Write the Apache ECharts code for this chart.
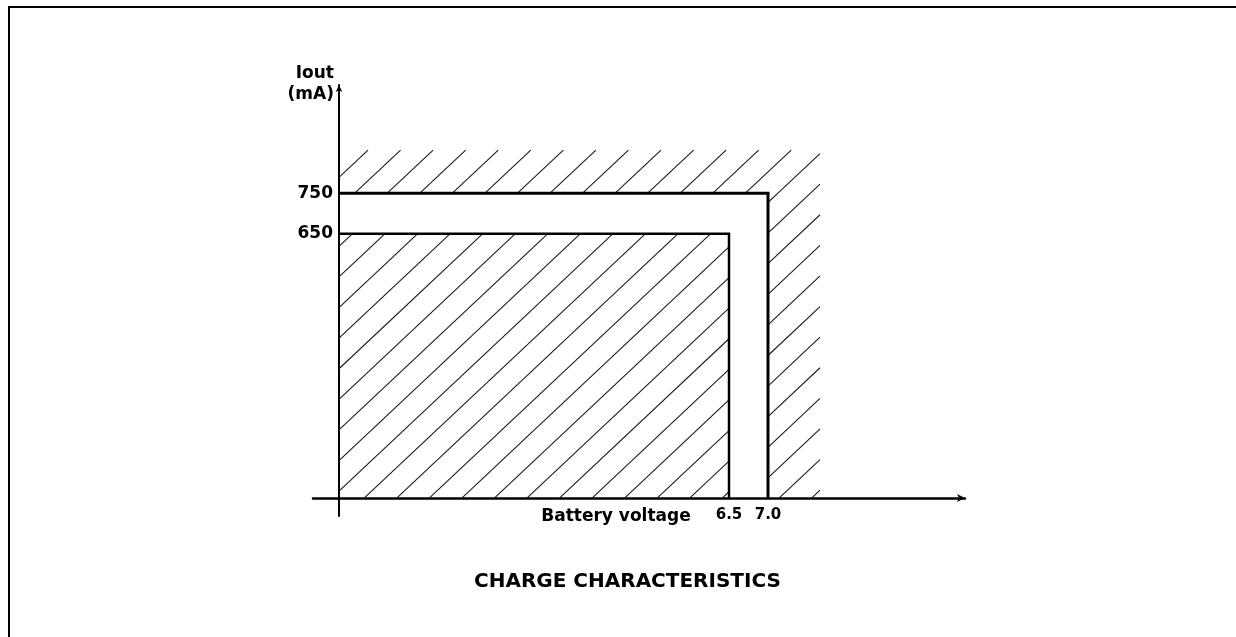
<!DOCTYPE html>
<html><head><meta charset="utf-8">
<script src="https://cdn.jsdelivr.net/npm/echarts@6/dist/echarts.min.js"></script>
<style>html,body{margin:0;padding:0;background:#fff}#chart{width:1236px;height:637px}</style>
</head><body><div id="chart"></div>
<script>
// ---- chart content ----
const chartTitle = 'CHARGE CHARACTERISTICS';
const xAxisName = 'Battery voltage';
const yAxisName = 'Iout\n(mA)';
const voltageTicks = [6.5, 7.0];          // labelled voltages (V)
const currentTicks = [650, 750];          // labelled currents (mA)
const voltageOrigin = 1.5;                // unlabelled schematic origin of voltage axis
const voltageRange = [1.1667, 9.5256];
const currentRange = [-44, 1016];
// boundary corners [voltage, current]
const innerLimit = [6.5, 650];
const outerLimit = [7.0, 750];
// hatched regions [v0, v1, i0, i1]
const hatchInner = [[voltageOrigin, 6.5, 0, 650]];
const hatchOuter = [[voltageOrigin, 7.667, 750, 856], [7.0, 7.667, 0, 750]];

// ---- rendering ----
const FONT = 'DejaVu Sans';
const chart = echarts.init(document.getElementById('chart'), null, {renderer: 'canvas'});

function hatchRenderer(slope, spacing, phase) {
  return function (params, api) {
    const tl = api.coord([api.value(0), api.value(3)]);
    const br = api.coord([api.value(1), api.value(2)]);
    const L = tl[0], T = tl[1], R = br[0], B = br[1];
    const cMin = slope * L + T, cMax = slope * R + B;
    const k0 = Math.ceil((cMin - phase) / spacing), k1 = Math.floor((cMax - phase) / spacing);
    const children = [];
    for (let k = k0; k <= k1; k++) {
      const c = phase + k * spacing;
      const xa = Math.max(L, (c - B) / slope), xb = Math.min(R, (c - T) / slope);
      if (xb - xa < 0.5) continue;
      children.push({type: 'line', shape: {x1: xa, y1: c - slope * xa, x2: xb, y2: c - slope * xb},
        style: {stroke: '#1a1a1a', lineWidth: 1.1}});
    }
    return {type: 'group', children};
  };
}

function boundary(limit) {
  return [[voltageOrigin, limit[1]], [limit[0], limit[1]], [limit[0], 0]];
}

const option = {
  animation: false,
  backgroundColor: '#fff',
  title: {text: chartTitle, left: 474, top: 572, padding: 0,
    textStyle: {fontFamily: FONT, fontWeight: 'bold', fontSize: 20, color: '#000'}},
  graphic: [{type: 'rect', silent: true, shape: {x: 9, y: 7, width: 1400, height: 800},
    style: {fill: 'none', stroke: '#000', lineWidth: 2}}],
  grid: {left: 313, right: 271, top: 85, bottom: 121, containLabel: false},
  xAxis: {
    type: 'value', min: voltageRange[0], max: voltageRange[1],
    splitLine: {show: false}, axisTick: {show: false},
    axisLine: {show: true, onZero: true, symbol: ['none', 'arrow'], symbolSize: [6, 8],
      lineStyle: {color: '#000', width: 2.5}},
    axisLabel: {customValues: voltageTicks, formatter: v => v.toFixed(1), color: '#000',
      fontFamily: FONT, fontWeight: 'bold', fontSize: 15, margin: -8},
    name: xAxisName, nameLocation: 'middle', nameGap: -8, nameMoveOverlap: false,
    nameTextStyle: {fontFamily: FONT, fontWeight: 'bold', fontSize: 17, color: '#000',
      verticalAlign: 'top', padding: [0, 46, 0, 0]}
  },
  yAxis: {
    type: 'value', min: currentRange[0], max: currentRange[1], position: 'left', offset: -26,
    splitLine: {show: false}, axisTick: {show: false},
    axisLine: {show: true, onZero: false, symbol: ['none', 'arrow'], symbolSize: [5, 7],
      lineStyle: {color: '#000', width: 2}},
    axisLabel: {customValues: currentTicks, color: '#000', fontFamily: FONT, fontWeight: 'bold',
      fontSize: 17, margin: 6, padding: [0, 0, 8, 0]},
    name: yAxisName, nameLocation: 'end', nameGap: -20,
    nameTextStyle: {fontFamily: FONT, fontWeight: 'bold', fontSize: 17, color: '#000', lineHeight: 21,
      align: 'right', verticalAlign: 'bottom', padding: [0, 5, 0, 0]}
  },
  series: [
    {type: 'custom', name: 'inner hatch', renderItem: hatchRenderer(0.94, 30.6, 565),
      data: hatchInner, encode: {x: [0, 1], y: [2, 3]}, z: 2, silent: true, clip: false},
    {type: 'custom', name: 'outer hatch', renderItem: hatchRenderer(0.94, 30.6, 496),
      data: hatchOuter, encode: {x: [0, 1], y: [2, 3]}, z: 2, silent: true, clip: false},
    {type: 'line', name: 'charge limit', data: boundary(innerLimit), symbol: 'none', z: 3,
      lineStyle: {color: '#000', width: 2.5, join: 'miter'}},
    {type: 'line', name: 'max limit', data: boundary(outerLimit), symbol: 'none', z: 3,
      lineStyle: {color: '#000', width: 3, join: 'miter'}}
  ]
};
chart.setOption(option);
</script>
</body></html>
